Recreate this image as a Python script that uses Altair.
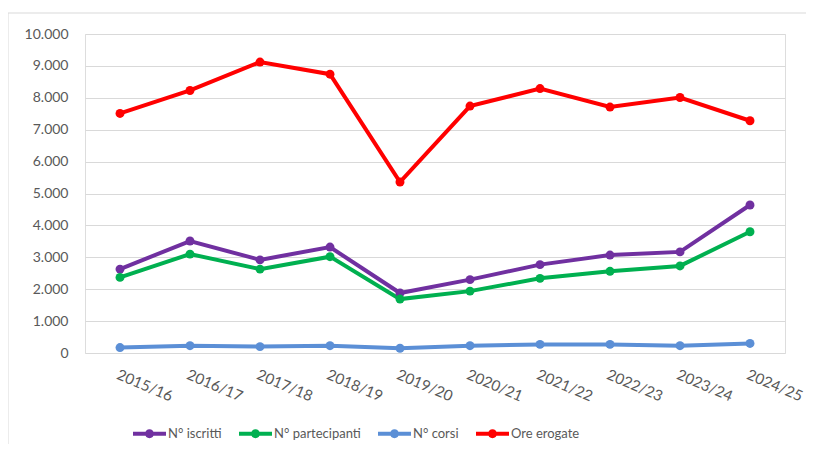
import altair as alt
import pandas as pd

years = ["2015/16", "2016/17", "2017/18", "2018/19", "2019/20",
         "2020/21", "2021/22", "2022/23", "2023/24", "2024/25"]
iscritti = [2630, 3510, 2920, 3320, 1880, 2300, 2770, 3070, 3170, 4640]
partecipanti = [2370, 3100, 2630, 3020, 1690, 1940, 2340, 2560, 2730, 3800]
corsi = [170, 230, 200, 230, 150, 230, 270, 270, 230, 300]
ore = [7510, 8230, 9120, 8740, 5360, 7740, 8290, 7710, 8010, 7280]

series_names = ["N° iscritti", "N° partecipanti", "N° corsi", "Ore erogate"]
series_colors = ["#7030A0", "#00B050", "#5B8FD6", "#FF0000"]

rows = []
for name, vals in zip(series_names, [iscritti, partecipanti, corsi, ore]):
    for yr, v in zip(years, vals):
        rows.append({"anno": yr, "serie": name, "valore": v})
df = pd.DataFrame(rows)

FONT = "Lato"
GRAY = "#595959"

x_enc = alt.X("anno:N", sort=years, scale=alt.Scale(type="point", padding=0.5),
              axis=alt.Axis(title=None, labelAngle=23, labelAlign="left", labelBaseline="top",
                            labelFont=FONT, labelFontSize=15, labelColor=GRAY,
                            labelPadding=14, ticks=False, domain=False, grid=False))
y_enc = alt.Y("valore:Q", scale=alt.Scale(domain=[0, 10000], nice=False),
              axis=alt.Axis(title=None, values=list(range(0, 10001, 1000)),
                            labelExpr="datum.value >= 1000 ? floor(datum.value/1000) + '.000' : '0'",
                            labelFont=FONT, labelFontSize=14, labelColor=GRAY,
                            labelPadding=17, ticks=False, domain=False,
                            grid=True, gridColor="#d9d9d9", gridWidth=1))

lines = alt.Chart(df).mark_line(strokeWidth=4).encode(
    x=x_enc, y=y_enc,
    stroke=alt.Stroke("serie:N", sort=series_names,
                      scale=alt.Scale(domain=series_names, range=series_colors), legend=None),
)

sym_path = ("M-1,-0.12L1,-0.12L1,0.12L-1,0.12Z "
            "M0.27,0A0.27,0.27,0,1,1,-0.27,0A0.27,0.27,0,1,1,0.27,0Z")

points = alt.Chart(df).mark_point(filled=True, size=80, opacity=1).encode(
    x=x_enc, y=y_enc,
    fill=alt.Fill("serie:N", sort=series_names,
                  scale=alt.Scale(domain=series_names, range=series_colors),
                  legend=alt.Legend(title=None, orient="none", direction="horizontal",
                                    legendX=48, legendY=383,
                                    symbolType=sym_path, symbolSize=1089, symbolStrokeWidth=0,
                                    labelFont=FONT, labelFontSize=13, labelColor=GRAY,
                                    labelOffset=2, columnPadding=17)),
)

frame_df = pd.DataFrame({"a": [0]})
top_border = alt.Chart(frame_df).mark_rule(color="#d9d9d9", strokeWidth=1).encode(
    x=alt.value(-77), x2=alt.value(729), y=alt.value(-21))
left_border = alt.Chart(frame_df).mark_rule(color="#d9d9d9", strokeWidth=1).encode(
    x=alt.value(-77), y=alt.value(-21), y2=alt.value(418))

chart = alt.layer(top_border, left_border, lines, points).resolve_scale(
    stroke="independent", fill="independent"
).properties(
    width=700, height=319,
    autosize=alt.AutoSizeParams(type="none"),
    padding={"left": 77, "top": 26, "right": 21, "bottom": 91},
).configure_view(stroke=None).configure(background="white")

chart.save("out.html", embed_options={"renderer": "svg", "actions": False})
